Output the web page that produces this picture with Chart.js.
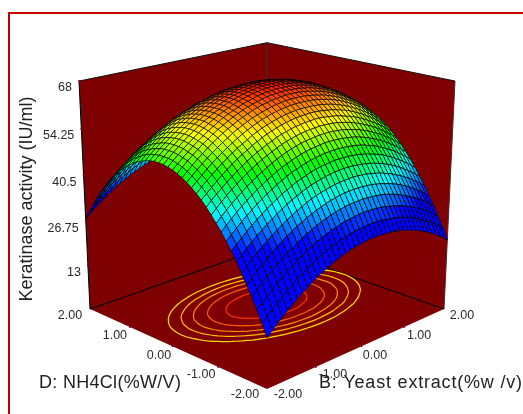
<!DOCTYPE html>
<html><head><meta charset="utf-8">
<style>html,body{margin:0;padding:0;background:#fff}canvas{display:block}</style>
<script src="https://cdn.jsdelivr.net/npm/chart.js@4/dist/chart.umd.min.js"></script>
</head><body><canvas id="c" width="523" height="414"></canvas>
<script>
// Keratinase activity. Rows: D = -2 .. 2, columns: B = -2 .. 2
const activity = [
[13.7,15.1,16.5,17.7,19.0,20.1,21.2,22.3,23.2,24.2,25.0,25.8,26.5,27.2,27.8,28.3,28.8,29.2,29.5,29.8,30,30.2,30.2,30.3,30.2,30.1,30.0,29.7,29.5,29.1,28.7,28.2,27.7,27.1,26.4,25.7,24.9,24.0,23.1,22.1,21.0],
[17.0,18.4,19.8,21.0,22.3,23.4,24.5,25.6,26.5,27.4,28.3,29.1,29.8,30.4,31.0,31.6,32.0,32.4,32.8,33.0,33.2,33.4,33.5,33.5,33.5,33.4,33.2,33.0,32.7,32.3,31.9,31.4,30.9,30.3,29.6,28.8,28.0,27.2,26.3,25.3,24.2],
[20.2,21.6,22.9,24.2,25.4,26.6,27.7,28.7,29.7,30.6,31.4,32.2,32.9,33.6,34.1,34.7,35.1,35.5,35.9,36.1,36.3,36.5,36.6,36.6,36.5,36.4,36.3,36.0,35.7,35.4,35.0,34.5,33.9,33.3,32.6,31.9,31.1,30.2,29.3,28.3,27.3],
[23.2,24.6,25.9,27.2,28.4,29.6,30.7,31.7,32.6,33.5,34.4,35.2,35.9,36.5,37.1,37.6,38.1,38.5,38.8,39.1,39.3,39.4,39.5,39.5,39.5,39.4,39.2,39.0,38.7,38.3,37.9,37.4,36.8,36.2,35.5,34.8,34.0,33.1,32.2,31.2,30.1],
[26.0,27.4,28.8,30.0,31.2,32.4,33.5,34.5,35.5,36.4,37.2,38.0,38.7,39.3,39.9,40.4,40.9,41.3,41.6,41.9,42.1,42.2,42.3,42.3,42.2,42.1,42.0,41.7,41.4,41.0,40.6,40.1,39.6,38.9,38.3,37.5,36.7,35.8,34.9,33.9,32.8],
[28.7,30.1,31.5,32.7,33.9,35.1,36.2,37.2,38.1,39.0,39.9,40.6,41.3,42.0,42.6,43.1,43.5,43.9,44.2,44.5,44.7,44.8,44.9,45.0,44.9,44.8,44.6,44.3,44.0,43.7,43.2,42.7,42.2,41.5,40.9,40.1,39.3,38.4,37.5,36.5,35.4],
[31.3,32.7,34.0,35.3,36.5,37.6,38.7,39.7,40.7,41.6,42.4,43.2,43.8,44.5,45.1,45.6,46.0,46.4,46.7,47.0,47.2,47.3,47.4,47.4,47.3,47.2,47.0,46.8,46.5,46.1,45.7,45.2,44.6,44.0,43.3,42.5,41.7,40.8,39.9,38.9,37.8],
[33.7,35.1,36.4,37.7,38.9,40.0,41.1,42.1,43.0,43.9,44.8,45.5,46.2,46.9,47.4,47.9,48.4,48.8,49.1,49.3,49.5,49.7,49.7,49.7,49.7,49.5,49.4,49.1,48.8,48.4,48.0,47.5,47.0,46.3,45.6,44.8,44.0,43.1,42.2,41.2,40.1],
[35.9,37.3,38.6,39.9,41.1,42.2,43.3,44.3,45.3,46.1,47.0,47.7,48.4,49.1,49.6,50.1,50.6,50.9,51.3,51.5,51.7,51.8,51.9,51.9,51.8,51.7,51.5,51.3,51.0,50.6,50.1,49.7,49.1,48.4,47.7,47.0,46.2,45.2,44.3,43.3,42.2],
[38.0,39.4,40.7,42.0,43.2,44.3,45.4,46.4,47.3,48.2,49.0,49.8,50.5,51.1,51.7,52.2,52.6,53.0,53.3,53.5,53.7,53.9,53.9,53.9,53.8,53.7,53.5,53.3,53.0,52.6,52.1,51.6,51.0,50.4,49.7,48.9,48.1,47.2,46.3,45.2,44.2],
[39.9,41.3,42.6,43.9,45.1,46.2,47.3,48.3,49.2,50.1,50.9,51.7,52.4,53.0,53.6,54.1,54.5,54.9,55.2,55.4,55.6,55.7,55.8,55.8,55.7,55.6,55.4,55.1,54.8,54.4,54.0,53.4,52.9,52.2,51.5,50.8,49.9,49.0,48.1,47.1,46.0],
[41.7,43.1,44.4,45.7,46.9,48.0,49.1,50.1,51.0,51.9,52.7,53.4,54.1,54.7,55.3,55.8,56.2,56.6,56.9,57.1,57.3,57.4,57.5,57.5,57.4,57.3,57.1,56.8,56.5,56.1,55.6,55.1,54.5,53.9,53.2,52.4,51.6,50.7,49.7,48.7,47.6],
[43.4,44.8,46.1,47.3,48.5,49.6,50.7,51.7,52.6,53.5,54.3,55.0,55.7,56.3,56.9,57.4,57.8,58.2,58.5,58.7,58.9,59.0,59.1,59.1,59.0,58.8,58.6,58.4,58.0,57.6,57.2,56.7,56.1,55.4,54.7,53.9,53.1,52.2,51.3,50.2,49.2],
[44.9,46.2,47.5,48.8,50.0,51.1,52.2,53.2,54.1,54.9,55.8,56.5,57.2,57.8,58.3,58.8,59.3,59.6,59.9,60.2,60.3,60.4,60.5,60.5,60.4,60.2,60.0,59.8,59.4,59.0,58.6,58.1,57.5,56.8,56.1,55.3,54.5,53.6,52.6,51.6,50.5],
[46.2,47.6,48.9,50.1,51.3,52.4,53.5,54.5,55.4,56.2,57.0,57.8,58.5,59.1,59.6,60.1,60.5,60.9,61.2,61.4,61.6,61.7,61.7,61.7,61.6,61.5,61.3,61.0,60.7,60.3,59.8,59.3,58.7,58.0,57.3,56.5,55.7,54.8,53.8,52.8,51.7],
[47.4,48.7,50.0,51.3,52.5,53.6,54.6,55.6,56.5,57.4,58.2,58.9,59.6,60.2,60.8,61.2,61.7,62.0,62.3,62.5,62.7,62.8,62.8,62.8,62.7,62.6,62.4,62.1,61.8,61.4,60.9,60.4,59.8,59.1,58.4,57.6,56.8,55.9,54.9,53.8,52.8],
[48.4,49.8,51.1,52.3,53.5,54.6,55.6,56.6,57.5,58.4,59.2,59.9,60.6,61.2,61.7,62.2,62.6,63.0,63.3,63.5,63.7,63.8,63.8,63.8,63.7,63.5,63.3,63.0,62.7,62.3,61.8,61.3,60.7,60.0,59.3,58.5,57.6,56.8,55.8,54.7,53.6],
[49.3,50.6,51.9,53.2,54.3,55.5,56.5,57.5,58.4,59.3,60.0,60.8,61.4,62.0,62.6,63.1,63.5,63.8,64.1,64.3,64.5,64.6,64.6,64.6,64.5,64.3,64.1,63.8,63.5,63.1,62.6,62.1,61.5,60.8,60.1,59.3,58.4,57.5,56.6,55.5,54.4],
[50.0,51.4,52.7,53.9,55.1,56.2,57.2,58.2,59.1,59.9,60.7,61.5,62.1,62.7,63.3,63.7,64.1,64.5,64.8,65.0,65.1,65.2,65.3,65.2,65.1,65.0,64.7,64.5,64.1,63.7,63.2,62.7,62.1,61.4,60.7,59.9,59.0,58.1,57.2,56.1,55.0],
[50.6,51.9,53.2,54.4,55.6,56.7,57.7,58.7,59.6,60.5,61.3,62.0,62.6,63.2,63.8,64.2,64.6,65.0,65.3,65.5,65.6,65.7,65.8,65.7,65.6,65.5,65.2,64.9,64.6,64.2,63.7,63.1,62.5,61.9,61.1,60.3,59.5,58.6,57.6,56.5,55.4],
[51.0,52.4,53.6,54.9,56.0,57.1,58.2,59.1,60.0,60.9,61.7,62.4,63.0,63.6,64.2,64.6,65.0,65.4,65.6,65.9,66.0,66.1,66.1,66.1,66.0,65.8,65.6,65.3,64.9,64.5,64.0,63.5,62.9,62.2,61.5,60.7,59.8,58.9,57.9,56.8,55.7],
[51.3,52.6,53.9,55.1,56.3,57.4,58.4,59.4,60.3,61.1,61.9,62.6,63.3,63.9,64.4,64.8,65.2,65.6,65.8,66.1,66.2,66.3,66.3,66.3,66.2,66.0,65.8,65.5,65.1,64.7,64.2,63.6,63.0,62.3,61.6,60.8,60.0,59.0,58.0,57.0,55.9],
[51.4,52.7,54.0,55.2,56.4,57.5,58.5,59.5,60.4,61.2,62.0,62.7,63.3,63.9,64.5,64.9,65.3,65.6,65.9,66.1,66.3,66.3,66.4,66.3,66.2,66.0,65.8,65.5,65.1,64.7,64.2,63.7,63.1,62.4,61.6,60.8,59.9,59.0,58.0,57.0,55.8],
[51.4,52.7,54.0,55.2,56.3,57.4,58.5,59.4,60.3,61.2,61.9,62.6,63.3,63.9,64.4,64.8,65.2,65.6,65.8,66.0,66.2,66.2,66.3,66.2,66.1,65.9,65.7,65.4,65.0,64.6,64.1,63.5,62.9,62.2,61.5,60.7,59.8,58.9,57.9,56.8,55.7],
[51.2,52.5,53.8,55.0,56.1,57.2,58.2,59.2,60.1,60.9,61.7,62.4,63.0,63.6,64.1,64.6,65.0,65.3,65.6,65.8,65.9,66.0,66.0,65.9,65.8,65.6,65.4,65.1,64.7,64.3,63.8,63.2,62.6,61.9,61.2,60.4,59.5,58.6,57.6,56.5,55.4],
[50.8,52.2,53.4,54.6,55.8,56.9,57.9,58.9,59.7,60.6,61.3,62.0,62.7,63.3,63.8,64.2,64.6,64.9,65.2,65.4,65.5,65.6,65.6,65.5,65.4,65.2,65.0,64.7,64.3,63.8,63.4,62.8,62.2,61.5,60.7,59.9,59.1,58.1,57.1,56.0,54.9],
[50.3,51.7,52.9,54.1,55.3,56.4,57.4,58.3,59.2,60.0,60.8,61.5,62.1,62.7,63.2,63.7,64.0,64.4,64.6,64.8,64.9,65.0,65.0,65.0,64.8,64.6,64.4,64.1,63.7,63.2,62.8,62.2,61.6,60.9,60.1,59.3,58.4,57.5,56.5,55.4,54.3],
[49.7,51.0,52.3,53.5,54.6,55.7,56.7,57.7,58.6,59.4,60.1,60.8,61.5,62.0,62.5,63.0,63.4,63.7,63.9,64.1,64.2,64.3,64.3,64.2,64.1,63.9,63.7,63.3,63.0,62.5,62.0,61.5,60.8,60.1,59.4,58.6,57.7,56.7,55.7,54.6,53.5],
[48.9,50.2,51.5,52.7,53.8,54.9,55.9,56.9,57.7,58.6,59.3,60.0,60.6,61.2,61.7,62.1,62.5,62.8,63.1,63.3,63.4,63.4,63.4,63.4,63.2,63.0,62.8,62.5,62.1,61.6,61.1,60.6,59.9,59.2,58.5,57.6,56.8,55.8,54.8,53.7,52.6],
[47.9,49.3,50.5,51.7,52.9,53.9,54.9,55.9,56.8,57.6,58.3,59.0,59.6,60.2,60.7,61.1,61.5,61.8,62.1,62.2,62.4,62.4,62.4,62.3,62.2,62.0,61.8,61.4,61.0,60.5,60.1,59.5,58.9,58.2,57.4,56.6,55.7,54.7,53.7,52.6,51.5],
[46.9,48.2,49.4,50.6,51.8,52.8,53.8,54.8,55.6,56.5,57.2,57.9,58.5,59.1,59.6,60.0,60.4,60.7,60.9,61.1,61.2,61.3,61.2,61.2,61.0,60.8,60.5,60.2,59.8,59.4,58.9,58.3,57.7,56.9,56.2,55.4,54.5,53.5,52.5,51.4,50.3],
[45.6,46.9,48.2,49.4,50.5,51.5,52.5,53.5,54.3,55.2,55.9,56.6,57.2,57.8,58.3,58.7,59.0,59.4,59.6,59.8,59.9,59.9,59.9,59.8,59.7,59.5,59.2,58.9,58.5,58.0,57.5,57.0,56.3,55.6,54.8,54.0,53.1,52.2,51.1,50.0,48.9],
[44.2,45.5,46.8,48.0,49.1,50.1,51.1,52.1,52.9,53.7,54.5,55.2,55.8,56.3,56.8,57.2,57.6,57.9,58.1,58.3,58.4,58.5,58.5,58.4,58.2,58.0,57.7,57.4,57.0,56.6,56.0,55.5,54.8,54.1,53.3,52.5,51.6,50.6,49.6,48.5,47.3],
[42.7,44.0,45.2,46.4,47.5,48.6,49.6,50.5,51.3,52.2,52.9,53.6,54.2,54.7,55.2,55.6,56.0,56.3,56.5,56.7,56.8,56.8,56.8,56.7,56.6,56.4,56.1,55.7,55.4,54.8,54.4,53.8,53.2,52.4,51.7,50.8,49.9,49.0,47.9,46.8,45.7],
[40.9,42.3,43.5,44.7,45.8,46.8,47.8,48.8,49.6,50.4,51.1,51.8,52.4,53.0,53.5,53.9,54.2,54.5,54.8,54.9,55.0,55.1,55.0,54.9,54.8,54.6,54.2,53.9,53.6,53.1,52.6,52.0,51.4,50.6,49.8,49.0,48.1,47.1,46.1,45.0,43.8],
[39.1,40.4,41.6,42.8,43.9,45.0,45.9,46.9,47.7,48.5,49.3,49.9,50.5,51.1,51.6,52.0,52.3,52.6,52.8,53.0,53.1,53.1,53.1,53.0,52.9,52.7,52.4,52.0,51.6,51.2,50.6,50.0,49.4,48.7,47.9,47.0,46.1,45.1,44.1,43.0,41.8],
[37.1,38.4,39.6,40.8,41.9,42.9,43.9,44.8,45.7,46.5,47.2,47.9,48.5,49.0,49.5,49.9,50.3,50.5,50.8,50.9,51.0,51.0,51.0,50.9,50.8,50.6,50.3,49.9,49.5,49.0,48.5,47.9,47.3,46.5,45.7,44.9,44.0,43.0,41.9,40.8,39.7],
[34.9,36.2,37.5,38.6,39.7,40.8,41.7,42.7,43.5,44.3,45.0,45.7,46.3,46.8,47.3,47.7,48.0,48.3,48.6,48.7,48.8,48.8,48.8,48.7,48.5,48.3,48.0,47.7,47.3,46.8,46.3,45.7,45.0,44.3,43.5,42.6,41.7,40.7,39.7,38.6,37.4],
[32.6,33.9,35.1,36.3,37.4,38.4,39.4,40.3,41.2,42.0,42.7,43.3,43.9,44.5,44.9,45.3,45.7,46.0,46.2,46.3,46.4,46.4,46.4,46.3,46.2,45.9,45.6,45.3,44.9,44.4,43.9,43.2,42.6,41.9,41.1,40.2,39.3,38.3,37.2,36.1,34.9],
[30.1,31.4,32.7,33.8,34.9,35.9,36.9,37.8,38.7,39.5,40.2,40.8,41.4,42.0,42.4,42.8,43.2,43.4,43.7,43.8,43.9,43.9,43.9,43.8,43.6,43.4,43.1,42.7,42.3,41.8,41.3,40.7,40.0,39.3,38.4,37.6,36.7,35.7,34.6,33.5,32.3],
[27.5,28.8,30.0,31.2,32.3,33.3,34.3,35.2,36.0,36.8,37.5,38.2,38.8,39.3,39.8,40.2,40.5,40.8,41.0,41.1,41.2,41.2,41.2,41.1,40.9,40.7,40.4,40.0,39.6,39.1,38.6,38.0,37.3,36.5,35.7,34.9,33.9,33.0,31.9,30.8,29.6]
];
const zTicks = [13, 26.75, 40.5, 54.25, 68];
const zFloor = -0.75;
const xyTicks = ['-2.00','-1.00','0.00','1.00','2.00'];
const contourLevels = [56, 58.5, 60.5, 62.5, 64.5];
const contourColours = ['#ffe000','#ffc000','#ff9000','#ff6000','#ff3000'];
const colourStops = [[33,[0,0,255]],[42,[0,255,255]],[50,[0,255,0]],[58,[255,255,0]],[67,[255,0,0]]];

// camera projection of plot space (a: B 0..1, b: D 0..1, t: height 0..1) into the chart's value space
const P={S:202.7,p:.1452,q:-.067,V0:389,Vd:-35.13,Vz:266.5,cx:267};
function proj(a,b,t){const w=1+P.p*(a+b)+P.q*t;return{x:P.cx+P.S*(a-b)/w,y:(P.V0+P.Vd*(a+b)-P.Vz*t)/w};}
const tOf=z=>(z-zFloor)/(68-zFloor);
function colour(z){
  if(z<=colourStops[0][0])return 'rgb('+colourStops[0][1].join(',')+')';
  for(let i=1;i<colourStops.length;i++){if(z<=colourStops[i][0]){
    const [z0,c0]=colourStops[i-1],[z1,c1]=colourStops[i],f=(z-z0)/(z1-z0);
    return 'rgb('+c0.map((v,k)=>Math.round(v+(c1[k]-v)*f)).join(',')+')';}}
  return 'rgb(255,0,0)';
}
const N=activity.length-1, datasets=[];
// a solid dash pattern keeps every vertex: the plain path merges vertices in the same pixel column
const line=(pts,color,width,fillColor)=>({data:pts,showLine:true,borderColor:color,borderWidth:width,pointRadius:0,tension:0,
  borderDash:[1000,0],fill:fillColor?'shape':false,backgroundColor:fillColor||'transparent',spanGaps:false});
// axis tick dots
const dots=[];
zTicks.forEach(z=>dots.push(proj(0,1,tOf(z))));
[.25,.5,.75].forEach(s=>{dots.push(proj(s,0,0));dots.push(proj(0,s,0));});
datasets.push({data:dots,pointRadius:1,pointBackgroundColor:'#800060',pointBorderWidth:0,showLine:false});
// surface: nearest cells first, because the library paints the first dataset last
for(let s=0;s<=2*(N-1);s++){for(let j=0;j<N;j++){const i=s-j;if(i<0||i>=N)continue;
  const g=(ii,jj)=>proj(ii/N,jj/N,tOf(activity[jj][ii]));
  const z=(activity[j][i]+activity[j][i+1]+activity[j+1][i]+activity[j+1][i+1])/4;
  datasets.push(line([g(i,j),g(i+1,j),g(i+1,j+1),g(i,j+1),g(i,j)],'#000',0.65,colour(z)));
}}
// floor contours from the table
function contour(level){
  const pts=[];
  for(let j=0;j<N;j++)for(let i=0;i<N;i++){
    const c=[[i,j],[i+1,j],[i+1,j+1],[i,j+1]],cross=[];
    for(let k=0;k<4;k++){const [i0,j0]=c[k],[i1,j1]=c[(k+1)%4],v0=activity[j0][i0],v1=activity[j1][i1];
      if((v0<level)!==(v1<level)){const f=(level-v0)/(v1-v0);cross.push(proj((i0+(i1-i0)*f)/N,(j0+(j1-j0)*f)/N,0));}}
    if(cross.length>=2){pts.push(cross[0],cross[1],{x:NaN,y:NaN});}
    if(cross.length===4){pts.push(cross[2],cross[3],{x:NaN,y:NaN});}
  }
  return pts;
}
contourLevels.forEach((l,k)=>datasets.push(line(contour(l),contourColours[k],1.2)));
// box edges and walls
const F=proj(0,0,0),L=proj(0,1,0),R=proj(1,0,0),K=proj(1,1,0),Lt=proj(0,1,1),Rt=proj(1,0,1),Kt=proj(1,1,1);
datasets.push(line([L,K],'#000',1.2),line([R,K],'#000',1.2),line([K,Kt],'#333',1));
datasets.push(line([L,Lt],'#000',1),line([R,Rt],'#333',1),line([Lt,Kt],'#111',1),line([Rt,Kt],'#111',1));
const wall='#7f0000';
datasets.push(line([F,L,K,R,F],wall,0,wall),line([L,K,Kt,Lt,L],wall,0,wall),line([R,K,Kt,Rt,R],wall,0,wall));

const dLabelShift=[[-22,6],[-17,8],[-13.5,9],[-15,9],[-20,7]];
const bLabelShift=[[21,6],[17,8],[13.5,9],[15,9],[18,7]];
const texts={
  id:'texts',
  afterDraw(ch){const c=ch.ctx,sx=ch.scales.x,sy=ch.scales.y;c.save();
    c.fillStyle='#2a2a2a';c.font='12.5px "Liberation Sans"';c.textBaseline='middle';
    const px=p=>({x:sx.getPixelForValue(p.x),y:sy.getPixelForValue(p.y)});
    c.textAlign='right';
    zTicks.forEach(z=>{const p=px(proj(0,1,tOf(z)));c.fillText(String(z),p.x-7,p.y+7);});
    c.textAlign='center';
    xyTicks.forEach((lab,k)=>{const s=k/4;
      const pd=px(proj(0,s,0));c.fillText(lab,pd.x+dLabelShift[k][0],pd.y+dLabelShift[k][1]);
      const pb=px(proj(s,0,0));c.fillText(lab,pb.x+bLabelShift[k][0],pb.y+bLabelShift[k][1]);});
    c.fillStyle='#222';c.font='18px "Liberation Sans"';c.textAlign='left';c.textBaseline='alphabetic';
    c.letterSpacing='0.3px';c.fillText('D: NH4Cl(%W/V)',39,388);
    c.letterSpacing='0.8px';c.fillText('B: Yeast extract(%w /v)',319,388);
    c.letterSpacing='0px';
    c.translate(32,199);c.rotate(-Math.PI/2);c.textAlign='center';c.fillText('Keratinase activity (IU/ml)',0,0);
    c.restore();}
};
const frame={id:'frame',beforeDraw(ch){const c=ch.ctx;c.save();c.fillStyle='#fff';c.fillRect(0,0,523,414);
  c.fillStyle='#c00000';c.fillRect(8,12,515,2);c.fillRect(8,12,2,402);c.restore();}};
new Chart(document.getElementById('c'),{type:'scatter',data:{datasets},plugins:[frame,texts],
 options:{responsive:false,animation:false,events:[],
  layout:{padding:0,autoPadding:false},
  scales:{x:{type:'linear',min:0,max:523,display:false},y:{type:'linear',min:0,max:414,reverse:true,display:false}},
  plugins:{legend:{display:false},tooltip:{enabled:false},filler:{drawTime:'beforeDatasetDraw',propagate:false}}}});
</script></body></html>
